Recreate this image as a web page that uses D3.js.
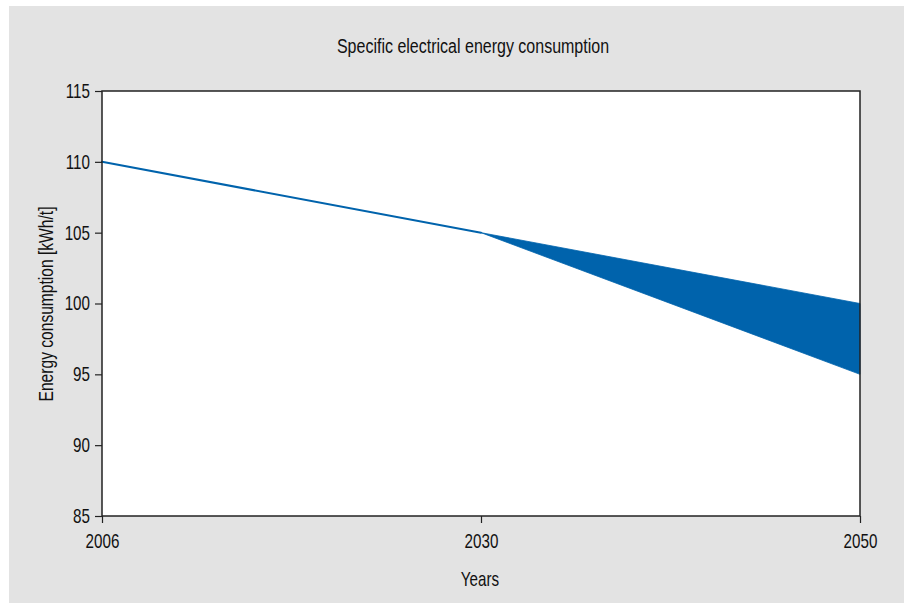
<!DOCTYPE html>
<html>
<head>
<meta charset="utf-8">
<script src="https://cdn.jsdelivr.net/npm/d3@7"></script>
<style>
  body { margin: 0; background: #fff; }
  svg text { font-family: "Liberation Sans", Arial, sans-serif; fill: #111; }
</style>
</head>
<body>
<svg id="chart"></svg>
<script>
// data
var years = ["2006", "2030", "2050"]
var lineValues = [110, 105]          // single path up to 2030
var bandUpper = [105, 100]           // 2030 -> 2050 upper edge
var bandLower = [105, 95]            // 2030 -> 2050 lower edge
var yTicks = [85, 90, 95, 100, 105, 110, 115]

var dimensions = {
    width: 904,
    height: 603,
    margin: { top: 91, bottom: 87, right: 44, left: 102 }
}

// the original font is a condensed grotesque, squeeze Liberation Sans to fit
var squeeze = 0.76
var fontSize = "20px"

var svg = d3.select("#chart")
            .attr("width", dimensions.width)
            .attr("height", dimensions.height)

// grey panel
svg.append("rect")
   .attr("x", 9).attr("y", 6)
   .attr("width", dimensions.width - 9)
   .attr("height", dimensions.height - 6)
   .attr("fill", "#e3e3e3")

var x0 = dimensions.margin.left
var x1 = dimensions.width - dimensions.margin.right
var y0 = dimensions.height - dimensions.margin.bottom
var y1 = dimensions.margin.top

svg.append("rect")
   .attr("x", x0).attr("y", y1)
   .attr("width", x1 - x0).attr("height", y0 - y1)
   .attr("fill", "#fff")

var xScale = d3.scalePoint()
               .domain(years)
               .range([x0, x1])

var yScale = d3.scaleLinear()
               .domain([85, 115])
               .range([y0, y1])

var blue = "#0063ac"

// the band 2030 - 2050
var bandData = [
    { year: years[1], lo: bandLower[0], hi: bandUpper[0] },
    { year: years[2], lo: bandLower[1], hi: bandUpper[1] }
]
var area = d3.area()
             .x(d => xScale(d.year))
             .y0(d => yScale(d.lo))
             .y1(d => yScale(d.hi))

svg.append("path")
   .datum(bandData)
   .attr("d", area)
   .attr("fill", blue)
   .attr("stroke", blue)
   .attr("stroke-width", 0.8)

var line = d3.line()
             .x((d, i) => xScale(years[i]))
             .y(d => yScale(d))

svg.append("path")
   .datum(lineValues)
   .attr("d", line)
   .attr("fill", "none")
   .attr("stroke", blue)
   .attr("stroke-width", 2)
   .attr("stroke-linecap", "round")

// frame
svg.append("rect")
   .attr("x", x0).attr("y", y1)
   .attr("width", x1 - x0).attr("height", y0 - y1)
   .attr("fill", "none")
   .attr("stroke", "#222")
   .attr("stroke-width", 1.5)

var xAxisgen = d3.axisBottom(xScale).tickSize(7).tickPadding(11)
var yAxisgen = d3.axisLeft(yScale).tickValues(yTicks).tickSize(7).tickPadding(5)

var xAxis = svg.append("g")
               .attr("transform", `translate(0,${y0})`)
               .call(xAxisgen)
var yAxis = svg.append("g")
               .attr("transform", `translate(${x0},0)`)
               .call(yAxisgen)

;[xAxis, yAxis].forEach(a => {
    a.select(".domain").remove()
    a.selectAll("line").attr("stroke", "#222").attr("stroke-width", 1.2)
    a.selectAll("text")
     .style("font-size", fontSize)
     .attr("fill", "#111")
     .attr("x", function() { return (+d3.select(this).attr("x") || 0) / squeeze })
     .attr("transform", `scale(${squeeze},1)`)
})

function label(x, y, txt, rotate, sq) {
    var g = svg.append("g")
               .attr("transform", `translate(${x},${y})` + (rotate ? " rotate(-90)" : ""))
    g.append("text")
     .attr("text-anchor", "middle")
     .attr("transform", `scale(${sq || squeeze},1)`)
     .style("font-size", fontSize)
     .text(txt)
}

label(473, 53, "Specific electrical energy consumption", false, 0.8)
label(480, 586, "Years")
label(53, 304, "Energy consumption [kWh/t]", true, 0.78)
</script>
</body>
</html>
